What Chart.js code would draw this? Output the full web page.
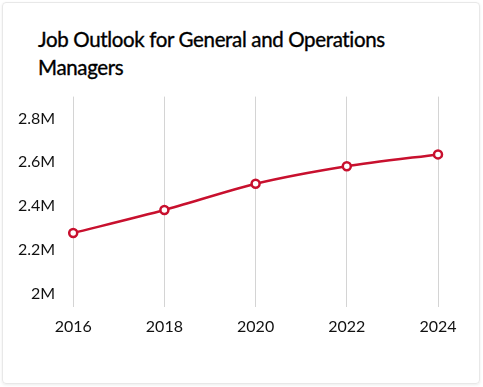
<!DOCTYPE html>
<html>
<head>
<meta charset="utf-8">
<script src="https://cdn.jsdelivr.net/npm/chart.js@4.4.0/dist/chart.umd.min.js"></script>
<style>
  html, body { margin: 0; padding: 0; background: #fff; }
  body { width: 483px; height: 387px; position: relative; overflow: hidden; }
  .card {
    position: absolute; left: 2px; top: 2px; width: 476px; height: 380px;
    border: 1px solid #e8e8e8; border-radius: 4px;
    box-shadow: 0 1px 3px rgba(0,0,0,0.08);
  }
  .title {
    position: absolute; left: 38px; top: 25px; width: 420px;
    font-family: Lato, sans-serif; font-size: 20.5px; line-height: 28px;
    color: #000; letter-spacing: -0.35px; -webkit-text-stroke: 0.35px #000;
  }
  .chart-box { position: absolute; left: 0; top: 77px; width: 483px; height: 269px; }
</style>
</head>
<body>
<div class="card"></div>
<div class="title">Job Outlook for General and Operations Managers</div>
<div class="chart-box"><canvas id="jobChart"></canvas></div>
<script>
// Employment, general and operations managers
const years = ['2016', '2018', '2020', '2022', '2024'];
const jobs = [2277000, 2382000, 2502000, 2582000, 2636000];
const yTicks = [2000000, 2200000, 2400000, 2600000, 2800000];

const ctx = document.getElementById('jobChart').getContext('2d');
new Chart(ctx, {
  type: 'line',
  data: {
    labels: years,
    datasets: [{
      label: 'Jobs',
      data: jobs,
      borderColor: '#c8102e',
      borderWidth: 2.5,
      backgroundColor: '#ffffff',
      pointBackgroundColor: '#ffffff',
      pointBorderColor: '#c8102e',
      pointBorderWidth: 2.5,
      pointRadius: 4,
      tension: 0.25,
      fill: false
    }]
  },
  options: {
    responsive: true,
    maintainAspectRatio: false,
    animation: false,
    layout: { padding: { left: 8, right: 45, top: 19, bottom: 0 } },
    plugins: { legend: { display: false }, tooltip: { enabled: false } },
    scales: {
      x: {
        offset: false,
        grid: { color: '#d4d4d4', drawTicks: false },
        border: { display: false },
        ticks: { color: '#111', padding: 10, font: { family: 'Lato', size: 16 } }
      },
      y: {
        min: 1940000,
        max: 2900000,
        afterBuildTicks: axis => { axis.ticks = yTicks.map(v => ({ value: v })); },
        grid: { display: false },
        border: { display: false },
        ticks: {
          color: '#111', padding: 10, font: { family: 'Lato', size: 16 },
          callback: v => (v / 1000000) + 'M'
        }
      }
    }
  }
});
</script>
</body>
</html>
